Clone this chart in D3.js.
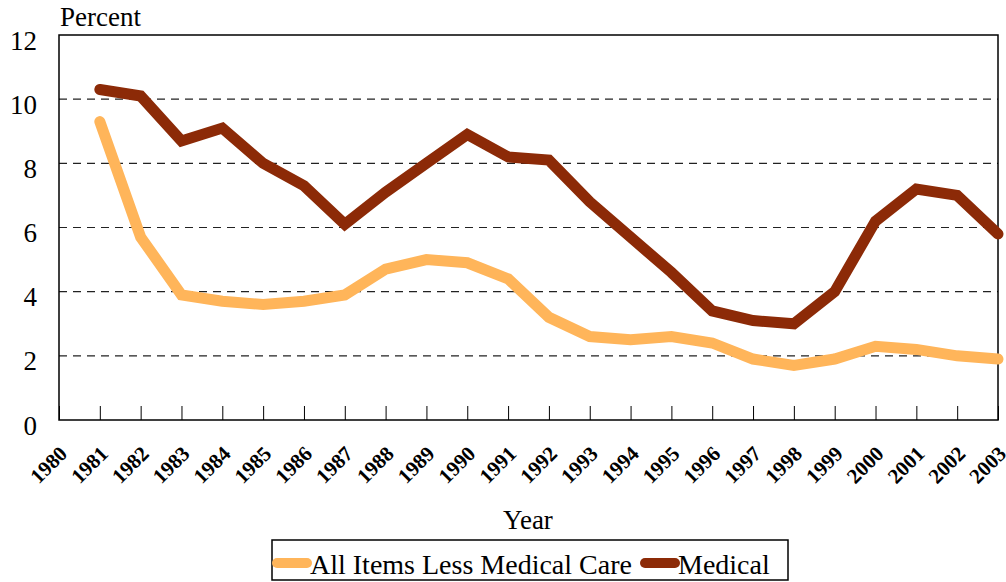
<!DOCTYPE html>
<html>
<head>
<meta charset="utf-8">
<script src="https://cdn.jsdelivr.net/npm/d3@7"></script>
<style>
body { margin: 0; background: #fff; }
svg text { font-family: "Liberation Serif", "Times New Roman", serif; }
</style>
</head>
<body>
<svg width="1006" height="582"></svg>
<script>
const years = d3.range(1980, 2004)
const dataYears = d3.range(1981, 2004)
const allItems = [9.3, 5.7, 3.9, 3.7, 3.6, 3.7, 3.9, 4.7, 5.0, 4.9, 4.4, 3.2, 2.6, 2.5, 2.6, 2.4, 1.9, 1.7, 1.9, 2.3, 2.2, 2.0, 1.9]
const medical = [10.3, 10.1, 8.7, 9.1, 8.0, 7.3, 6.1, 7.1, 8.0, 8.9, 8.2, 8.1, 6.8, 5.7, 4.6, 3.4, 3.1, 3.0, 4.0, 6.2, 7.2, 7.0, 5.8]
const yTicks = [0, 2, 4, 6, 8, 10, 12]
const seriesNames = ['All Items Less Medical Care', 'Medical']
const colors = ['#ffb55a', '#8c2a07']

const svg = d3.select('svg')
const margin = { top: 35, right: 8, bottom: 162, left: 59 },
      width = 1006 - margin.left - margin.right,
      height = 582 - margin.top - margin.bottom

const chart = svg.append('g')
    .attr('transform', `translate(${margin.left},${margin.top})`)

const x = d3.scaleLinear().domain([1980, 2003]).range([0, width])
const y = d3.scaleLinear().domain([0, 12]).range([height, 0])

// gridlines
chart.append('g')
    .selectAll('line')
    .data(yTicks.filter(d => d > 0 && d < 12))
    .join('line')
    .attr('x1', 0).attr('x2', width)
    .attr('y1', d => y(d)).attr('y2', d => y(d))
    .attr('stroke', '#222')
    .attr('stroke-width', 1.2)
    .attr('stroke-dasharray', '8,6')

// x axis with inward ticks
const xAxis = chart.append('g')
    .attr('transform', `translate(0,${height})`)
    .call(d3.axisBottom(x).tickValues(years).tickSize(-14).tickFormat(d3.format('d')))
xAxis.select('.domain').remove()
xAxis.selectAll('line').attr('stroke', '#000').attr('stroke-width', 1)
xAxis.selectAll('text')
    .style('font-family', '"Liberation Serif", serif')
    .attr('font-size', 21)
    .attr('font-weight', 'bold')
    .attr('fill', '#000')
    .attr('text-anchor', 'end')
    .attr('dy', null)
    .attr('y', 0)
    .attr('transform', 'translate(9,35) rotate(-45)')

// y axis labels
const yAxis = chart.append('g')
    .call(d3.axisLeft(y).tickValues(yTicks).tickSize(0).tickPadding(22))
yAxis.select('.domain').remove()
yAxis.selectAll('text')
    .style('font-family', '"Liberation Serif", serif')
    .attr('font-size', 27)
    .attr('dy', '0.52em')
    .attr('fill', '#000')

// frame
chart.append('rect')
    .attr('width', width).attr('height', height)
    .attr('fill', 'none').attr('stroke', '#000').attr('stroke-width', 1.5)

const line = d3.line()
    .x((d, i) => x(dataYears[i]))
    .y(d => y(d))

;[allItems, medical].forEach((s, i) => {
    chart.append('path')
        .datum(s)
        .attr('d', line)
        .attr('fill', 'none')
        .attr('stroke', colors[i])
        .attr('stroke-width', 11)
        .attr('stroke-linecap', 'round')
        .attr('stroke-linejoin', 'miter')
})

svg.append('text')
    .attr('x', 60).attr('y', 26)
    .attr('font-size', 27)
    .text('Percent')

svg.append('text')
    .attr('x', 528).attr('y', 529)
    .attr('text-anchor', 'middle')
    .attr('font-size', 27)
    .text('Year')

// legend
const legend = svg.append('g')
legend.append('rect')
    .attr('x', 272).attr('y', 540).attr('width', 516).attr('height', 40)
    .attr('fill', 'none').attr('stroke', '#000').attr('stroke-width', 1.5)
const swatchX = [277, 645]
seriesNames.forEach((name, i) => {
    legend.append('line')
        .attr('x1', swatchX[i]).attr('x2', swatchX[i] + 30)
        .attr('y1', 563).attr('y2', 563)
        .attr('stroke', colors[i]).attr('stroke-width', 10)
        .attr('stroke-linecap', 'round')
    legend.append('text')
        .attr('x', swatchX[i] + 33).attr('y', 574)
        .attr('font-size', 28)
        .text(name)
})
</script>
</body>
</html>
